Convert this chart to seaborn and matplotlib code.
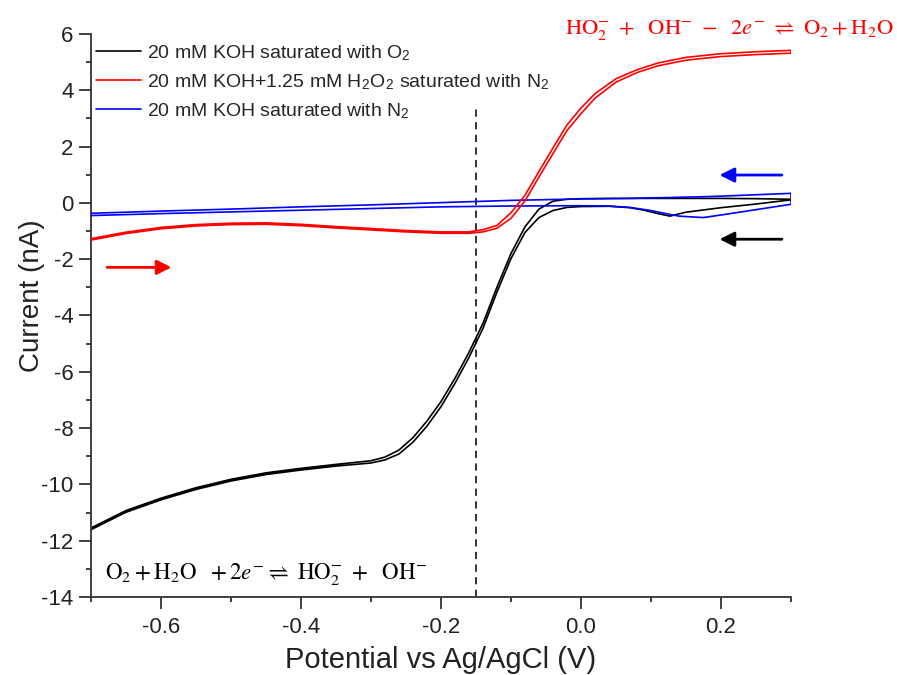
import numpy as np
import pandas as pd
import matplotlib
matplotlib.use("Agg")
import matplotlib.pyplot as plt
import seaborn as sns

# Cyclic voltammograms (potential in V, current in nA)
# each curve: branch going out (lower) and branch coming back (upper)
v_o2 = [-0.70, -0.65, -0.60, -0.55, -0.50, -0.45, -0.40, -0.35, -0.30, -0.28, -0.26,
        -0.24, -0.22, -0.20, -0.18, -0.16, -0.14, -0.12, -0.10, -0.08, -0.06, -0.04,
        -0.02, 0.00, 0.04, 0.07, 0.09, 0.11, 0.127, 0.15, 0.20, 0.25, 0.30]
i_o2_out = [-11.61, -10.99, -10.55, -10.18, -9.88, -9.65, -9.49, -9.35, -9.24, -9.13, -8.92,
            -8.50, -7.93, -7.24, -6.41, -5.49, -4.46, -3.17, -1.98, -1.05, -0.52, -0.27,
            -0.16, -0.13, -0.12, -0.17, -0.26, -0.38, -0.47, -0.33, -0.17, -0.04, 0.11]
i_o2_back = [-11.55, -10.93, -10.49, -10.12, -9.82, -9.59, -9.43, -9.29, -9.16, -9.03, -8.78,
             -8.34, -7.75, -7.06, -6.23, -5.31, -4.28, -2.99, -1.80, -0.85, -0.22, 0.06,
             0.13, 0.15, 0.16, 0.16, 0.16, 0.16, 0.16, 0.16, 0.16, 0.15, 0.13]

v_h2o2 = [-0.70, -0.65, -0.60, -0.55, -0.50, -0.45, -0.40, -0.35, -0.30, -0.25, -0.20,
          -0.16, -0.14, -0.12, -0.10, -0.08, -0.06, -0.04, -0.02, 0.00, 0.02, 0.05,
          0.08, 0.11, 0.15, 0.20, 0.25, 0.30]
i_h2o2_out = [-1.32, -1.09, -0.92, -0.82, -0.77, -0.76, -0.81, -0.89, -0.96, -1.03, -1.08,
              -1.08, -1.03, -0.90, -0.55, 0.07, 0.92, 1.75, 2.57, 3.17, 3.72, 4.29,
              4.63, 4.87, 5.07, 5.20, 5.27, 5.32]
i_h2o2_back = [-1.27, -1.04, -0.87, -0.77, -0.72, -0.71, -0.76, -0.84, -0.91, -0.98, -1.03,
               -1.03, -0.95, -0.80, -0.35, 0.27, 1.12, 1.95, 2.77, 3.37, 3.88, 4.41,
               4.73, 4.97, 5.17, 5.30, 5.37, 5.42]

v_n2 = [-0.70, -0.60, -0.50, -0.40, -0.30, -0.20, -0.10, 0.00, 0.04, 0.07, 0.10,
        0.125, 0.14, 0.16, 0.175, 0.20, 0.25, 0.30]
i_n2_out = [-0.45, -0.38, -0.32, -0.26, -0.20, -0.14, -0.11, -0.10, -0.11, -0.16, -0.27,
            -0.40, -0.47, -0.50, -0.52, -0.43, -0.24, -0.05]
i_n2_back = [-0.37, -0.29, -0.22, -0.14, -0.07, 0.01, 0.09, 0.14, 0.15, 0.16, 0.18,
             0.19, 0.20, 0.21, 0.22, 0.24, 0.29, 0.34]

labels = ["20 mM KOH saturated with O$_\\mathregular{2}$",
          "20 mM KOH+1.25 mM H$_\\mathregular{2}$O$_\\mathregular{2}$ saturated with N$_\\mathregular{2}$",
          "20 mM KOH saturated with N$_\\mathregular{2}$"]
colors = ["black", "#ff0000", "#0000ff"]

# scan direction arrows (tail, head) in data units
arrow_n2 = [(0.287, 0.99), (0.198, 0.99)]
arrow_o2 = [(0.287, -1.29), (0.198, -1.29)]
arrow_h2o2 = [(-0.677, -2.29), (-0.585, -2.29)]


def loop(v, out, back, name):
    # closed loop: out along v, back along reversed v
    return pd.DataFrame({"V": list(v) + list(v[::-1]),
                         "I": list(out) + list(back[::-1]),
                         "sample": name})


sns.set_theme(style="ticks")
plt.rcParams["font.family"] = ["Liberation Sans", "DejaVu Sans"]
plt.rcParams["mathtext.fontset"] = "stix"
plt.rcParams["axes.unicode_minus"] = False

fig = plt.figure(figsize=(8.97, 6.75), dpi=100)
ax = fig.add_axes([0.1014, 0.1156, 0.7804, 0.834])

curves = [loop(v_o2, i_o2_out, i_o2_back, labels[0]),
          loop(v_h2o2, i_h2o2_out, i_h2o2_back, labels[1]),
          loop(v_n2, i_n2_out, i_n2_back, labels[2])]
zorders = [2, 4, 3]
for df, c, z in zip(curves, colors, zorders):
    sns.lineplot(data=df, x="V", y="I", sort=False, estimator=None, color=c,
                 lw=1.2, ax=ax, label=df["sample"].iloc[0], zorder=z)

ax.vlines(-0.15, -14, 3.5, colors="#222222", linestyles=(0, (4, 3)), lw=1.3, zorder=1)

for (tail, head), c in zip([arrow_n2, arrow_o2, arrow_h2o2], [colors[2], colors[0], colors[1]]):
    ax.annotate("", xy=head, xytext=tail,
                arrowprops=dict(arrowstyle="-|>", color=c, lw=2, mutation_scale=22,
                                shrinkA=0, shrinkB=0))

ax.set_xlim(-0.7, 0.3)
ax.set_ylim(-14, 6)
ax.set_xticks([-0.6, -0.4, -0.2, 0.0, 0.2])
ax.set_xticks(np.arange(-0.7, 0.31, 0.1), minor=True)
ax.set_yticks(np.arange(-14, 7, 2))
ax.set_yticks(np.arange(-14, 7, 1), minor=True)
ax.xaxis.set_major_formatter(matplotlib.ticker.FormatStrFormatter("%.1f"))
ax.tick_params(axis="both", which="major", length=8.5, width=1.3, labelsize=16,
               direction="out", color="#333333", labelcolor="#222222")
ax.tick_params(axis="x", which="major", pad=6)
ax.tick_params(axis="y", which="major", pad=4)
ax.tick_params(axis="both", which="minor", length=3.6, width=1.3, direction="out",
               color="#333333")
for s in ["left", "bottom"]:
    ax.spines[s].set_linewidth(1.3)
    ax.spines[s].set_color("#333333")
sns.despine(ax=ax)

ax.set_xlabel("Potential vs Ag/AgCl (V)", fontsize=21, va="center", color="#222222")
ax.set_ylabel("Current (nA)", fontsize=20, va="center", color="#222222")
ax.xaxis.set_label_coords(0.5, -0.112)
ax.yaxis.set_label_coords(-0.084, 0.535)

h, l = ax.get_legend_handles_labels()
ax.legend(h, l, loc="upper left", bbox_to_anchor=(-0.012, 1.008), frameon=False,
          fontsize=14, handlelength=2.3, handletextpad=0.3, labelspacing=0.48,
          borderaxespad=0.3)

ax.text(0.02, 0.04,
        r"$\mathrm{O_2 + H_2O}\ \ + 2e^{-} \rightleftharpoons\ \mathrm{HO_2^{-}}\ +\ \ \mathrm{OH^{-}}$",
        transform=ax.transAxes, fontsize=16.5, color="black", ha="left", va="center")
fig.text(0.813, 0.955,
         r"$\mathrm{HO_2^{-}}\ +\ \ \mathrm{OH^{-}}\ -\ \ 2e^{-}\ \rightleftharpoons\ \mathrm{O_2 + H_2O}$",
         fontsize=16.2, color="#ff0000", ha="center", va="center")

fig.savefig("out.png", dpi=100, facecolor="white")
